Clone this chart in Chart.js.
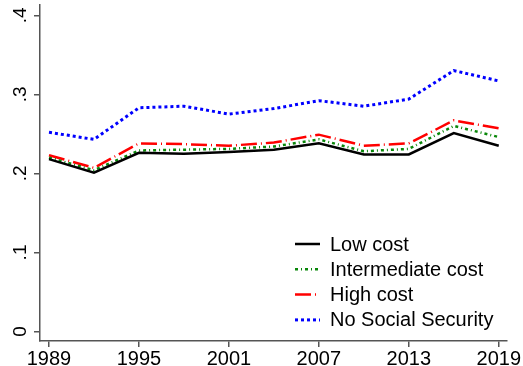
<!DOCTYPE html>
<html>
<head>
<meta charset="utf-8">
<script src="https://cdn.jsdelivr.net/npm/chart.js@4.4.1/dist/chart.umd.min.js"></script>
<style>
  html, body { margin: 0; padding: 0; background: #fff; }
  canvas { display: block; }
</style>
</head>
<body>
<canvas id="costChart" width="523" height="366"></canvas>
<script>
// Survey years and the share for each cost scenario
const years = [1989, 1992, 1995, 1998, 2001, 2004, 2007, 2010, 2013, 2016, 2019];
const lowCost = [0.218, 0.201, 0.226, 0.225, 0.227, 0.230, 0.238, 0.224, 0.224, 0.251, 0.235];
const intermediateCost = [0.220, 0.204, 0.229, 0.230, 0.231, 0.234, 0.243, 0.228, 0.231, 0.260, 0.246];
const highCost = [0.223, 0.207, 0.238, 0.237, 0.235, 0.239, 0.249, 0.235, 0.238, 0.267, 0.257];
const noSocialSecurity = [0.252, 0.243, 0.283, 0.285, 0.275, 0.282, 0.292, 0.285, 0.294, 0.330, 0.317];

const seriesLabels = ['Low cost', 'Intermediate cost', 'High cost', 'No Social Security'];
const xTicks = [1989, 1995, 2001, 2007, 2013, 2019];
const yTicks = [0, 0.1, 0.2, 0.3, 0.4];
const yTickLabels = ['0', '.1', '.2', '.3', '.4'];

const FONT = "'Liberation Sans', Arial, Helvetica, sans-serif";
const AXIS_COLOR = '#555';

function toPoints(values) {
    return years.map((yr, i) => ({ x: yr, y: values[i] }));
}

// y labels are drawn turned on their side, Stata style
const rotatedYLabels = {
    id: 'rotatedYLabels',
    afterDraw(chart) {
        const ctx = chart.ctx;
        const yScale = chart.scales.y;
        ctx.save();
        ctx.fillStyle = '#000';
        ctx.font = '19px ' + FONT;
        ctx.textAlign = 'center';
        ctx.textBaseline = 'alphabetic';
        yTicks.forEach((v, i) => {
            const py = yScale.getPixelForValue(v);
            ctx.save();
            ctx.translate(26, py);
            ctx.rotate(-Math.PI / 2);
            ctx.fillText(yTickLabels[i], 0, 0);
            ctx.restore();
        });
        ctx.restore();
    }
};

// legend box in the lower right of the plot
const insideLegend = {
    id: 'insideLegend',
    afterDraw(chart) {
        const ctx = chart.ctx;
        const area = chart.chartArea;
        const lineX0 = area.right - 212;
        const lineX1 = lineX0 + 25;
        const textX = lineX1 + 10;
        const firstRow = area.bottom - 97;
        const rowGap = 25.3;
        ctx.save();
        ctx.font = '20px ' + FONT;
        ctx.textBaseline = 'middle';
        ctx.textAlign = 'left';
        chart.data.datasets.forEach((ds, i) => {
            const y = firstRow + i * rowGap;
            ctx.save();
            ctx.strokeStyle = ds.borderColor;
            ctx.lineWidth = ds.borderWidth;
            ctx.setLineDash(ds.borderDash || []);
            ctx.lineCap = 'butt';
            ctx.beginPath();
            ctx.moveTo(lineX0, y);
            ctx.lineTo(lineX1, y);
            ctx.stroke();
            ctx.restore();
            ctx.fillStyle = '#000';
            ctx.fillText(ds.label, textX, y + 1);
        });
        ctx.restore();
    }
};

const ctx = document.getElementById('costChart').getContext('2d');

const costChart = new Chart(ctx, {
    type: 'line',
    data: {
        datasets: [
            {
                label: seriesLabels[0],
                data: toPoints(lowCost),
                borderColor: '#000000',
                borderWidth: 2.5,
                borderDash: []
            },
            {
                label: seriesLabels[1],
                data: toPoints(intermediateCost),
                borderColor: '#0a870a',
                borderWidth: 2.5,
                borderDash: [3, 3, 1, 3]
            },
            {
                label: seriesLabels[2],
                data: toPoints(highCost),
                borderColor: '#ff0000',
                borderWidth: 2.5,
                borderDash: [16, 4, 1, 4]
            },
            {
                label: seriesLabels[3],
                data: toPoints(noSocialSecurity),
                borderColor: '#0000ff',
                borderWidth: 3,
                borderDash: [3, 3]
            }
        ]
    },
    options: {
        responsive: false,
        animation: false,
        devicePixelRatio: 1,
        layout: {
            padding: { top: 5, right: 16, left: 0, bottom: 0 }
        },
        elements: {
            point: { radius: 0 },
            line: { tension: 0, borderCapStyle: 'butt', borderJoinStyle: 'miter' }
        },
        plugins: {
            legend: { display: false },
            tooltip: { enabled: false },
            title: { display: false }
        },
        scales: {
            x: {
                type: 'linear',
                min: 1988.4,
                max: 2019.55,
                afterBuildTicks: scale => {
                    scale.ticks = xTicks.map(v => ({ value: v }));
                },
                afterFit: scale => { scale.height = 25; },
                ticks: {
                    color: '#000',
                    font: { family: FONT, size: 20 },
                    padding: 0,
                    maxRotation: 0,
                    autoSkip: false,
                    callback: value => String(value)
                },
                grid: {
                    drawOnChartArea: false,
                    drawTicks: true,
                    tickLength: 6,
                    color: AXIS_COLOR,
                    lineWidth: 1.5
                },
                border: { display: true, color: AXIS_COLOR, width: 1.5 }
            },
            y: {
                min: -0.012,
                max: 0.413,
                afterBuildTicks: scale => {
                    scale.ticks = yTicks.map(v => ({ value: v }));
                },
                afterFit: scale => { scale.width = 40; },
                ticks: { display: false },
                grid: {
                    drawOnChartArea: false,
                    drawTicks: true,
                    tickLength: 6,
                    color: AXIS_COLOR,
                    lineWidth: 1.5
                },
                border: { display: true, color: AXIS_COLOR, width: 1.5 }
            }
        }
    },
    plugins: [rotatedYLabels, insideLegend]
});
</script>
</body>
</html>
